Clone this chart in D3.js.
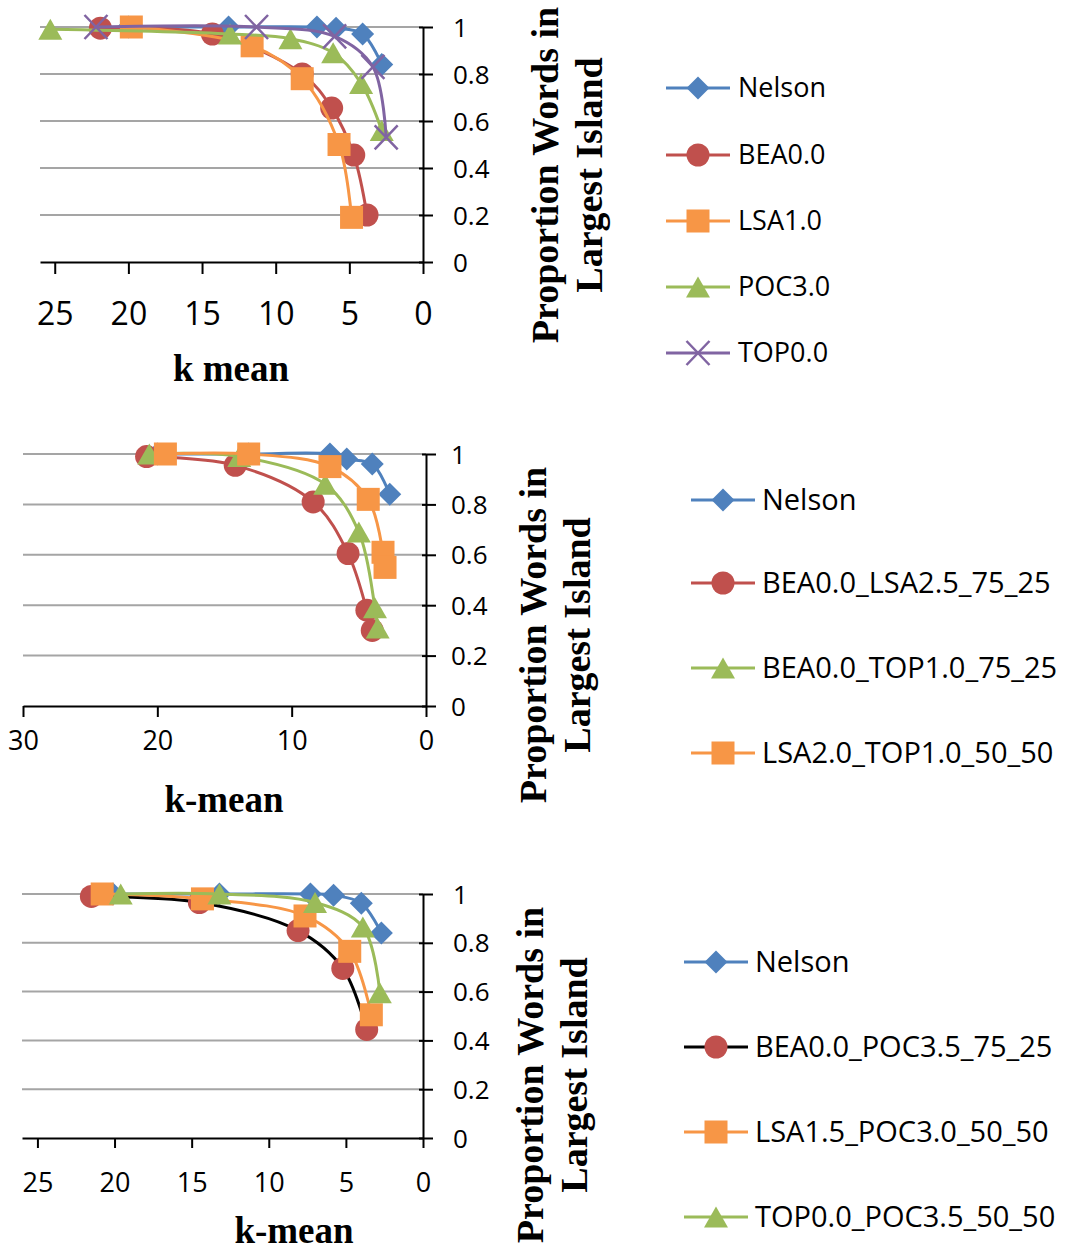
<!DOCTYPE html>
<html>
<head>
<meta charset="utf-8">
<script src="https://cdn.jsdelivr.net/npm/d3@7"></script>
<style>
  body { margin: 0; background: #fff; }
</style>
</head>
<body>
<div id="chart"></div>
<script>
// dimensioni della pagina
const width = 1075;
const height = 1250;

// ---- dati: pannello 1 ----
const p1Names = ["Nelson", "BEA0.0", "LSA1.0", "POC3.0", "TOP0.0"];
const p1Nelson = [[20, 1], [13.2, 1], [7.2, 1], [5.9, 0.995], [4.1, 0.97], [2.8, 0.84]];
const p1BEA = [[21.9, 0.995], [14.3, 0.97], [8.2, 0.80], [6.2, 0.655], [4.7, 0.455], [3.8, 0.2]];
const p1LSA = [[19.8, 1], [11.6, 0.92], [8.2, 0.78], [5.7, 0.5], [4.85, 0.19]];
const p1POC = [[25.3, 0.99], [13.1, 0.97], [9.0, 0.95], [6.1, 0.89], [4.2, 0.76], [2.8, 0.56]];
const p1TOP = [[22.2, 1], [11.3, 1], [6.0, 0.96], [3.4, 0.83], [2.5, 0.53]];
const p1XTicks = [25, 20, 15, 10, 5, 0];

// ---- dati: pannello 2 ----
const p2Names = ["Nelson", "BEA0.0_LSA2.5_75_25", "BEA0.0_TOP1.0_75_25", "LSA2.0_TOP1.0_50_50"];
const p2Nelson = [[20, 1], [13.2, 1], [7.15, 1], [5.9, 0.98], [4.0, 0.96], [2.7, 0.84]];
const p2BEALSA = [[20.8, 0.99], [14.2, 0.955], [8.4, 0.81], [5.8, 0.605], [4.4, 0.38], [4.0, 0.30]];
const p2BEATOP = [[20.6, 1], [13.9, 0.99], [7.5, 0.88], [5.0, 0.69], [3.8, 0.39], [3.6, 0.31]];
const p2LSATOP = [[19.4, 1], [13.2, 1], [7.15, 0.95], [4.3, 0.82], [3.2, 0.61], [3.05, 0.55]];
const p2XTicks = [30, 20, 10, 0];

// ---- dati: pannello 3 ----
const p3Names = ["Nelson", "BEA0.0_POC3.5_75_25", "LSA1.5_POC3.0_50_50", "TOP0.0_POC3.5_50_50"];
const p3Nelson = [[20.1, 1], [13.2, 1], [7.3, 1], [5.8, 0.995], [4.0, 0.962], [2.7, 0.84]];
const p3BEAPOC = [[21.5, 0.99], [14.5, 0.965], [8.1, 0.85], [5.2, 0.695], [3.65, 0.445]];
const p3LSAPOC = [[20.8, 1], [14.3, 0.98], [7.65, 0.91], [4.75, 0.765], [3.35, 0.505]];
const p3TOPPOC = [[19.6, 1], [13.2, 1], [7.0, 0.965], [3.9, 0.865], [2.8, 0.595]];
const p3XTicks = [25, 20, 15, 10, 5, 0];

const yTicks = [0, 0.2, 0.4, 0.6, 0.8, 1];
const xTitles = ["k mean", "k-mean", "k-mean"];
const yTitle = ["Proportion Words in", "Largest Island"];

// colori stile Excel 2007
const blue = "#4F81BD", red = "#C0504D", orange = "#F79646", green = "#9BBB59", purple = "#8064A2";

// impaginazione dei tre pannelli
const panels = [
  {
    names: p1Names, series: [p1Nelson, p1BEA, p1LSA, p1POC, p1TOP],
    fills: [blue, red, orange, green, purple], lines: [blue, red, orange, green, purple],
    markers: ["diamond", "circle", "square", "triangle", "x"],
    xDomain: [26, 0], xTicks: p1XTicks, xTitle: xTitles[0],
    x0: 40, x1: 423, yTop: 27, yBot: 262, xTickLen: 12,
    xTickFont: 32, xLabBase: 325, xTitleX: 231, xTitleY: 381,
    yLabX: 453, yTitleX: [558, 602], yTitleCy: 175,
    lx0: 666, lx1: 730, tx: 738, rows: [88, 155, 221, 287, 353], legFont: 27
  },
  {
    names: p2Names, series: [p2Nelson, p2BEALSA, p2BEATOP, p2LSATOP],
    fills: [blue, red, green, orange], lines: [blue, red, green, orange],
    markers: ["diamond", "circle", "triangle", "square"],
    xDomain: [30, 0], xTicks: p2XTicks, xTitle: xTitles[1],
    x0: 23, x1: 426, yTop: 454, yBot: 706, xTickLen: 11,
    xTickFont: 27, xLabBase: 750, xTitleX: 224, xTitleY: 812,
    yLabX: 451, yTitleX: [546, 590], yTitleCy: 635,
    lx0: 691, lx1: 755, tx: 762, rows: [500, 583, 668, 753], legFont: 29
  },
  {
    names: p3Names, series: [p3Nelson, p3BEAPOC, p3LSAPOC, p3TOPPOC],
    fills: [blue, red, orange, green], lines: [blue, "#000", orange, green],
    markers: ["diamond", "circle", "square", "triangle"],
    xDomain: [26, 0], xTicks: p3XTicks, xTitle: xTitles[2],
    x0: 22, x1: 423, yTop: 894, yBot: 1138, xTickLen: 10,
    xTickFont: 27, xLabBase: 1192, xTitleX: 294, xTitleY: 1243,
    yLabX: 453, yTitleX: [543, 587], yTitleCy: 1075,
    lx0: 684, lx1: 748, tx: 755, rows: [962, 1047, 1132, 1217], legFont: 29
  }
];

const svg = d3.select("#chart")
  .append("svg")
  .attr("width", width)
  .attr("height", height)
  .style("background", "#fff");

// disegna un marcatore nel punto (cx, cy)
function drawMarker(g, type, cx, cy, color) {
  if (type === "circle") {
    g.append("circle").attr("cx", cx).attr("cy", cy).attr("r", 11.5).attr("fill", color);
  } else if (type === "square") {
    g.append("rect").attr("x", cx - 11.5).attr("y", cy - 11.5)
      .attr("width", 23).attr("height", 23).attr("fill", color);
  } else if (type === "diamond") {
    g.append("path").attr("transform", `translate(${cx},${cy})`)
      .attr("d", "M0,-11.5L11.5,0L0,11.5L-11.5,0Z").attr("fill", color);
  } else if (type === "triangle") {
    g.append("path").attr("transform", `translate(${cx},${cy})`)
      .attr("d", "M0,-10.5L12,10.5L-12,10.5Z").attr("fill", color);
  } else if (type === "x") {
    g.append("path").attr("transform", `translate(${cx},${cy})`)
      .attr("d", "M-11.5,-12L11.5,12M-11.5,12L11.5,-12")
      .attr("fill", "none").attr("stroke", color).attr("stroke-width", 2.5);
  }
}

function drawPanel(p) {
  const g = svg.append("g");
  const x = d3.scaleLinear().domain(p.xDomain).range([p.x0, p.x1]);
  const y = d3.scaleLinear().domain([0, 1]).range([p.yBot, p.yTop]);

  // griglia orizzontale
  g.selectAll("line.grid")
    .data(yTicks.filter(d => d > 0))
    .enter().append("line")
    .attr("class", "grid")
    .attr("x1", p.x0).attr("x2", p.x1)
    .attr("y1", d => y(d)).attr("y2", d => y(d))
    .attr("stroke", "#a5a5a5")
    .attr("stroke-width", 2);

  // asse x (in basso)
  const xa = g.append("g")
    .attr("transform", `translate(0,${p.yBot})`)
    .call(d3.axisBottom(x).tickValues(p.xTicks).tickSize(p.xTickLen).tickSizeOuter(0));
  xa.select(".domain").attr("stroke", "#000").attr("stroke-width", 2);
  xa.selectAll(".tick line").attr("stroke", "#000").attr("stroke-width", 2);
  xa.selectAll(".tick text")
    .attr("y", p.xLabBase - p.yBot).attr("dy", null)
    .attr("font-family", "'Open Sans', sans-serif")
    .attr("font-size", p.xTickFont)
    .attr("fill", "#000");

  // asse y (a destra)
  const ya = g.append("g")
    .attr("transform", `translate(${p.x1},0)`)
    .call(d3.axisRight(y).tickValues(yTicks).tickSize(10).tickSizeOuter(0)
      .tickFormat(d => (d === 0 || d === 1) ? d : d.toFixed(1)));
  ya.select(".domain").attr("stroke", "#000").attr("stroke-width", 2);
  ya.selectAll(".tick line").attr("x1", -4).attr("stroke", "#000").attr("stroke-width", 2);
  ya.selectAll(".tick text")
    .attr("x", p.yLabX - p.x1).attr("dy", "0.35em")
    .attr("font-family", "'Open Sans', sans-serif")
    .attr("font-size", 26)
    .attr("fill", "#000");

  // titolo asse x
  g.append("text")
    .attr("x", p.xTitleX).attr("y", p.xTitleY)
    .attr("text-anchor", "middle")
    .attr("font-family", "'Liberation Serif', serif")
    .attr("font-weight", "bold")
    .attr("font-size", 37)
    .text(p.xTitle);

  // titolo asse y, su due righe ruotate
  yTitle.forEach((t, i) => {
    g.append("text")
      .attr("transform", `translate(${p.yTitleX[i]},${p.yTitleCy}) rotate(-90)`)
      .attr("text-anchor", "middle")
      .attr("font-family", "'Liberation Serif', serif")
      .attr("font-weight", "bold")
      .attr("font-size", 38)
      .text(t);
  });

  // serie: linea smussata + marcatori
  const line = d3.line()
    .x(d => x(d[0]))
    .y(d => y(d[1]))
    .curve(d3.curveCatmullRom.alpha(0.5));

  p.series.forEach((s, i) => {
    const sg = g.append("g");
    sg.append("path")
      .attr("d", line(s))
      .attr("fill", "none")
      .attr("stroke", p.lines[i])
      .attr("stroke-width", 3);
    s.forEach(d => drawMarker(sg, p.markers[i], x(d[0]), y(d[1]), p.fills[i]));
  });

  // legenda
  p.names.forEach((name, i) => {
    const ly = p.rows[i];
    const lg = g.append("g");
    lg.append("line")
      .attr("x1", p.lx0).attr("x2", p.lx1)
      .attr("y1", ly).attr("y2", ly)
      .attr("stroke", p.lines[i]).attr("stroke-width", 3);
    drawMarker(lg, p.markers[i], (p.lx0 + p.lx1) / 2, ly, p.fills[i]);
    lg.append("text")
      .attr("x", p.tx).attr("y", ly)
      .attr("dy", "0.35em")
      .attr("font-family", "'Open Sans', sans-serif")
      .attr("font-size", p.legFont)
      .attr("fill", "#000")
      .text(name);
  });
}

panels.forEach(drawPanel);
</script>
</body>
</html>
